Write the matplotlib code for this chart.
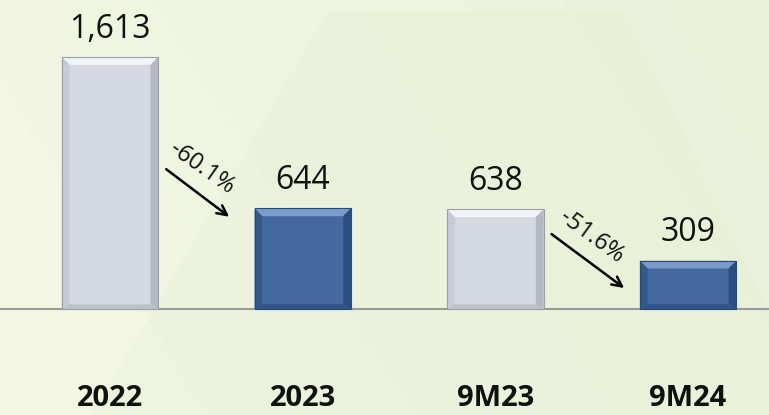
import matplotlib
matplotlib.use("Agg")
import matplotlib.pyplot as plt
import numpy as np
from matplotlib.patches import Polygon

categories = ["2022", "2023", "9M23", "9M24"]
values = [1613, 644, 638, 309]
value_labels = ["1,613", "644", "638", "309"]
changes = ["-60.1%", "-51.6%"]
change_pairs = [(0, 1), (2, 3)]

light_face = "#d3d8e1"
dark_face = "#43699f"
bar_colors = [light_face, dark_face, light_face, dark_face]

fig = plt.figure(figsize=(7.69, 4.15), dpi=100)

# background gradient
bg = fig.add_axes([0, 0, 1, 1], zorder=0)
gx = np.linspace(0, 1, 256)
gy = np.linspace(0, 1, 64)
X, Y = np.meshgrid(gx, gy)
c0 = np.array([0xf4, 0xf7, 0xe4]) / 255
c1 = np.array([0xea, 0xf2, 0xda]) / 255
t = np.clip(0.75 * X + 0.25 * (1 - Y), 0, 1)[..., None]
img = c0 * (1 - t) + c1 * t
bg.imshow(img, extent=[0, 1, 0, 1], aspect="auto", origin="upper")
bg.add_patch(Polygon([[0.12, 0.0], [0.425, 0.97], [0.815, 0.97], [1.0, 0.25], [1.0, 0.0]],
                     closed=True, facecolor="#dfe9cc", edgecolor="none", alpha=0.2))
bg.set_xlim(0, 1); bg.set_ylim(0, 1)
bg.axis("off")

ax = fig.add_axes([0, 0, 1, 1], zorder=1)
ax.patch.set_alpha(0)
x = np.arange(len(categories))
width = 0.5
bars = ax.bar(x, values, width=width, color=bar_colors, edgecolor="none", zorder=3)

# bevel decoration
for b, c in zip(bars, bar_colors):
    x0, y0 = b.get_x(), b.get_y()
    w, h = b.get_width(), b.get_height()
    dx = 0.04
    dy = min(50.0, h * 0.3)
    if c == light_face:
        top, left, right, bot, edge = "#f1f3f6", "#c6cbd4", "#b3b8c2", "#bcc1cb", "#9aa0ab"
    else:
        top, left, right, bot, edge = "#7b9ccb", "#36598d", "#2d4e80", "#30538a", "#2a4a78"
    xi0, xi1 = x0 + dx, x0 + w - dx
    yt, yi_t, yi_b = y0 + h, y0 + h - dy, y0 + dy * 0.6
    ax.add_patch(Polygon([[x0, yt], [x0 + w, yt], [xi1, yi_t], [xi0, yi_t]], facecolor=top, edgecolor="none", zorder=4))
    ax.add_patch(Polygon([[x0, y0], [x0, yt], [xi0, yi_t], [xi0, yi_b]], facecolor=left, edgecolor="none", zorder=4))
    ax.add_patch(Polygon([[x0 + w, y0], [x0 + w, yt], [xi1, yi_t], [xi1, yi_b]], facecolor=right, edgecolor="none", zorder=4))
    ax.add_patch(Polygon([[x0, y0], [x0 + w, y0], [xi1, yi_b], [xi0, yi_b]], facecolor=bot, edgecolor="none", zorder=4))
    ax.add_patch(Polygon([[x0, y0], [x0, yt], [x0 + w, yt], [x0 + w, y0]], facecolor="none", edgecolor=edge, lw=0.8, zorder=5))

# value labels
for xi, v, lab in zip(x, values, value_labels):
    ax.annotate(lab, (xi, v), xytext=(0, 14), textcoords="offset points",
                ha="center", va="baseline", fontsize=23, family="Open Sans", color="#111111")

# category labels
for xi, cat in zip(x, categories):
    ax.annotate(cat, (xi, 0), xytext=(0, -70), textcoords="offset points",
                ha="center", va="baseline", fontsize=21, family="Open Sans",
                fontweight="bold", color="#111111")

# change arrows
for (i, j), txt in zip(change_pairs, changes):
    xs = x[i] + width / 2 + 0.03
    if i == 0:
        xe = x[j] - width / 2 - 0.12
        ys = values[j] + 0.27 * (values[i] - values[j])
        ye = values[j] * 0.9
        ang = -35
    else:
        xe = x[j] - width / 2 - 0.07
        ys = values[j] + 0.55 * (values[i] - values[j])
        ye = values[j] * 0.4
        ang = -36
    ax.annotate("", xy=(xe, ye), xytext=(xs, ys),
                arrowprops=dict(arrowstyle="->,head_length=0.7,head_width=0.35", color="black", lw=1.8),
                zorder=6)
    ax.text((xs + xe) / 2 + 0.02, (ys + ye) / 2 + 155, txt, rotation=ang, rotation_mode="anchor",
            ha="center", va="center", fontsize=17, family="Open Sans", color="#111111", zorder=6)

ax.axhline(0, color="#9a9a9a", lw=1.5, zorder=2)

ax.set_xlim(-0.571, 3.420)
ax.set_ylim(-678.5, 1977.8)
ax.axis("off")

fig.savefig("out.png", dpi=100)
